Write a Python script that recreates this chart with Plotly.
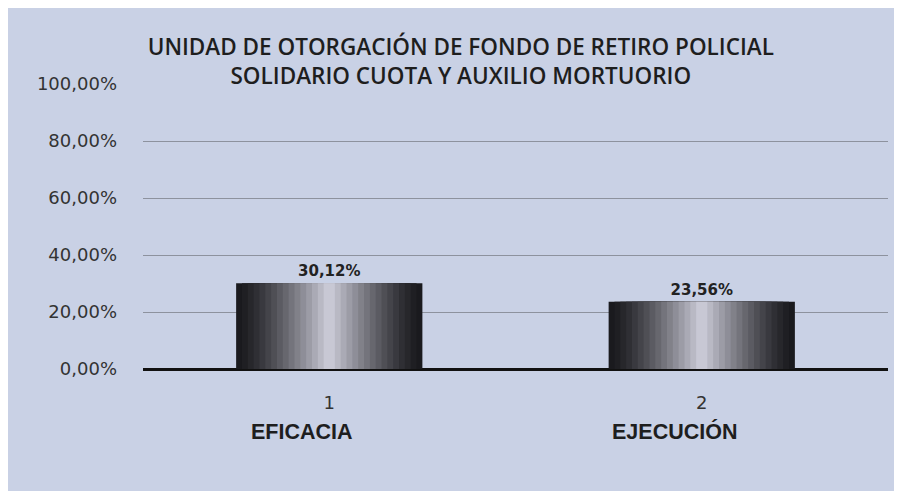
import plotly.graph_objects as go

categories = [0, 1]
tick_labels = ["1", "2"]
names = ["EFICACIA", "EJECUCIÓN"]
values = [0.3012, 0.2356]
title_lines = ["UNIDAD DE OTORGACIÓN DE FONDO DE RETIRO POLICIAL",
               "SOLIDARIO CUOTA Y AUXILIO MORTUORIO"]

# fake the metallic gradient: stack narrower, lighter bars on top of each other
n_layers = 16
dark, light = (26, 26, 30), (200, 200, 212)

fig = go.Figure()
for i in range(n_layers):
    t = i / (n_layers - 1)
    w = 0.5 * (1 - t) + 0.03 * t
    k = t ** 1.3
    col = "rgb({},{},{})".format(*[round(d + (l - d) * k) for d, l in zip(dark, light)])
    first = i == 0
    fig.add_trace(go.Bar(
        x=categories, y=values, width=w,
        marker=dict(color=col, line=dict(width=0)),
        texttemplate="<b>%{y:.2%}</b>" if first else None,
        textposition="outside" if first else "none",
        textfont=dict(size=15, color="#222222", family="DejaVu Sans"),
        cliponaxis=False,
        hoverinfo="y" if first else "skip",
        showlegend=False,
    ))

# category names sit a bit left of the tick numbers, like in the original
for c, n in zip(categories, names):
    fig.add_annotation(x=c, y=-0.221, xref="x", yref="paper", text=f"<b>{n}</b>",
                       showarrow=False, yanchor="middle", xshift=-27,
                       font=dict(size=21.5, color="#1e1e1e", family="Liberation Sans"))

fig.update_layout(
    width=902, height=491,
    barmode="overlay",
    separators=",.",
    paper_bgcolor="#c9d1e5",
    plot_bgcolor="rgba(0,0,0,0)",
    margin=dict(l=135, r=22, t=76, b=130),
    title=dict(text="<br>".join(title_lines), x=0.502, xanchor="center",
               y=0.905, yanchor="top",
               font=dict(size=22.5, color="#1e1e1e", family="Open Sans", weight=600)),
    font=dict(family="DejaVu Sans", color="#333333"),
    xaxis=dict(
        range=[-0.5, 1.5], tickvals=categories, ticktext=tick_labels,
        showgrid=False, ticks="",
        tickfont=dict(size=18, color="#333333"),
        ticklabelstandoff=21,
        showline=False, zeroline=False,
    ),
    yaxis=dict(
        range=[0, 1], tickvals=[0, 0.2, 0.4, 0.6, 0.8, 1.0], tickformat=".2%",
        tickfont=dict(size=18, color="#333333"),
        showgrid=True, gridcolor="#8d929e", gridwidth=1,
        zeroline=True, zerolinecolor="#111111", zerolinewidth=3,
        ticklabelstandoff=25,
    ),
)

fig.write_html("out.html")
